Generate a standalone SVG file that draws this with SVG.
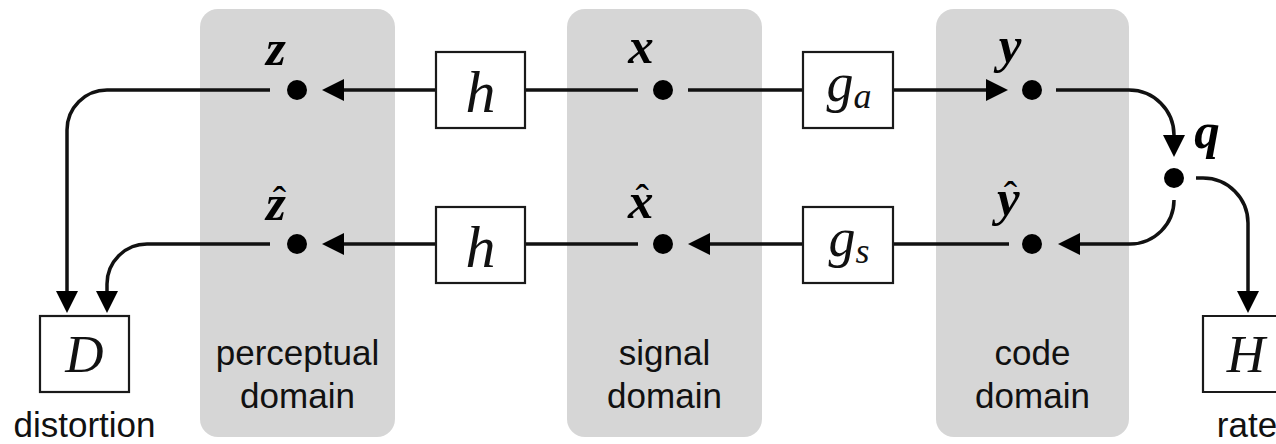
<svg xmlns="http://www.w3.org/2000/svg" width="1276" height="444" viewBox="0 0 1276 444">
<defs>
<style>
.panel{fill:#d6d6d6;}
.box{fill:#ffffff;stroke:#1a1a1a;stroke-width:2.2;}
.conn{fill:none;stroke:#111;stroke-width:3.5;}
.dot{fill:#000;}
.lbl{font-family:"Liberation Sans",Arial,sans-serif;font-size:35px;fill:#111;text-anchor:middle;}
.mi{font-family:"Liberation Serif","Times New Roman",serif;font-style:italic;fill:#111;text-anchor:middle;}
.mb{font-family:"Liberation Serif","Times New Roman",serif;font-style:italic;font-weight:bold;font-size:51px;fill:#000;text-anchor:middle;}
.mbs{font-family:"Liberation Serif","Times New Roman",serif;font-style:italic;font-weight:bold;font-size:51px;fill:#000;}
.hat{font-size:40px;font-style:normal;font-weight:normal;}
</style>
<marker id="arr" markerUnits="userSpaceOnUse" markerWidth="22" markerHeight="22" viewBox="0 -11 22 22" refX="1" refY="0" orient="auto">
<path d="M0,-11 L22,0 L0,11 z" fill="#000"/>
</marker>
</defs>
<rect width="1276" height="444" fill="#ffffff"/>

<g id="perceptual-domain">
<rect class="panel" x="200" y="9" width="195" height="428" rx="18"/>
<text class="lbl" x="297.5" y="365">perceptual</text>
<text class="lbl" x="297.5" y="408">domain</text>
</g>
<g id="signal-domain">
<rect class="panel" x="567" y="9" width="195" height="428" rx="18"/>
<text class="lbl" x="664.5" y="365">signal</text>
<text class="lbl" x="664.5" y="408">domain</text>
</g>
<g id="code-domain">
<rect class="panel" x="936" y="9" width="193" height="428" rx="18"/>
<text class="lbl" x="1032.5" y="365">code</text>
<text class="lbl" x="1032.5" y="408">domain</text>
</g>

<g id="connectors">
<path class="conn" d="M436,90 H343" marker-end="url(#arr)"/>
<path class="conn" d="M436,244 H343" marker-end="url(#arr)"/>
<path class="conn" d="M638,90 H525"/>
<path class="conn" d="M638,244 H525"/>
<path class="conn" d="M688,90 H803"/>
<path class="conn" d="M893,90 H987" marker-end="url(#arr)"/>
<path class="conn" d="M1009,244 H893"/>
<path class="conn" d="M803,244 H709" marker-end="url(#arr)"/>
<path class="conn" d="M270,90 H107 A40,40 0 0 0 67,130 V292" marker-end="url(#arr)"/>
<path class="conn" d="M270,244 H147 A40,40 0 0 0 107,284 V292" marker-end="url(#arr)"/>
<path class="conn" d="M1056,90 H1129 A45,45 0 0 1 1174,135 V136" marker-end="url(#arr)"/>
<path class="conn" d="M1196,178 H1203 A45,45 0 0 1 1248,223 V292" marker-end="url(#arr)"/>
<path class="conn" d="M1174,200 A44,44 0 0 1 1130,244 H1079" marker-end="url(#arr)"/>
</g>

<g id="z">
<circle class="dot" cx="297" cy="90" r="10"/>
<text class="mb" x="276" y="65">z</text>
</g>
<g id="z-hat">
<circle class="dot" cx="297" cy="244" r="10"/>
<text class="mbs" x="266" y="220">z<tspan class="hat" dx="-13" dy="-6">ˆ</tspan></text>
</g>
<g id="x">
<circle class="dot" cx="663" cy="90" r="10"/>
<text class="mb" x="641" y="63">x</text>
</g>
<g id="x-hat">
<circle class="dot" cx="663" cy="244" r="10"/>
<text class="mbs" x="628" y="218">x<tspan class="hat" dx="-18" dy="-6">ˆ</tspan></text>
</g>
<g id="y">
<circle class="dot" cx="1032" cy="90" r="10"/>
<text class="mb" x="1010" y="62">y</text>
</g>
<g id="y-hat">
<circle class="dot" cx="1032" cy="244" r="10"/>
<text class="mbs" x="997" y="215">y<tspan class="hat" dx="-16" dy="-6">ˆ</tspan></text>
</g>
<g id="q">
<circle class="dot" cx="1174" cy="178" r="10"/>
<text class="mb" x="1207" y="148">q</text>
</g>

<g id="h-top">
<rect class="box" x="436" y="52" width="89" height="76"/>
<text class="mi" x="480.5" y="112" font-size="60">h</text>
</g>
<g id="h-bottom">
<rect class="box" x="436" y="207" width="89" height="76"/>
<text class="mi" x="480.5" y="267" font-size="60">h</text>
</g>
<g id="g-a">
<rect class="box" x="803" y="52" width="90" height="76"/>
<text class="mi" x="849" y="101" font-size="54">g<tspan font-size="36" dy="7">a</tspan></text>
</g>
<g id="g-s">
<rect class="box" x="803" y="207" width="90" height="76"/>
<text class="mi" x="849" y="256" font-size="54">g<tspan font-size="36" dy="7">s</tspan></text>
</g>
<g id="D">
<rect class="box" x="40" y="316" width="89" height="76"/>
<text class="mi" x="84.5" y="372" font-size="53">D</text>
<text class="lbl" x="84.5" y="437">distortion</text>
</g>
<g id="H">
<path class="box" d="M1290,316 H1203 V392 H1290"/>
<text class="mi" x="1246" y="372" font-size="53">H</text>
<text class="lbl" x="1247" y="437">rate</text>
</g>
</svg>
